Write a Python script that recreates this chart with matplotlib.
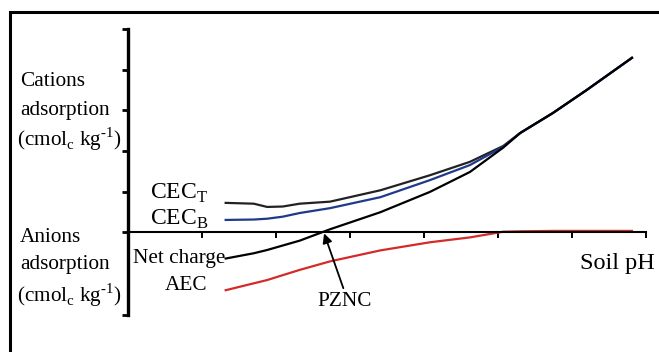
import matplotlib
matplotlib.use("Agg")
import matplotlib.pyplot as plt
from matplotlib.patches import Rectangle

plt.rcParams['font.family'] = 'Liberation Serif'
plt.rcParams['mathtext.fontset'] = 'custom'
plt.rcParams['mathtext.rm'] = 'Liberation Serif'

# values (soil pH in tick units, charge in tick units)
ph = [1.32, 1.70, 1.88, 2.09, 2.32, 2.73, 3.41, 4.08, 4.62, 5.07, 5.30, 5.74, 6.20, 6.81]
cec_t = [0.72, 0.70, 0.62, 0.63, 0.70, 0.75, 1.03, 1.40, 1.73, 2.12, 2.44, 2.93, 3.50, 4.29]
cec_b = [0.30, 0.31, 0.33, 0.38, 0.47, 0.59, 0.86, 1.28, 1.65, 2.10, 2.44, 2.93, 3.50, 4.29]
net = [-0.65, -0.52, -0.44, -0.33, -0.21, 0.07, 0.49, 0.99, 1.48, 2.08, 2.44, 2.93, 3.50, 4.29]
aec = [-1.43, -1.26, -1.18, -1.06, -0.93, -0.72, -0.45, -0.25, -0.13, 0.01, 0.02, 0.03, 0.03, 0.03]

x_ticks = [0, 1, 2, 3, 4, 5, 6, 7]
y_ticks = [-2.04, 0, 1, 2, 3, 4, 5]
pznc = (2.65, -0.03)

W, H = 659, 352
fig = plt.figure(figsize=(W / 100, H / 100), dpi=100)
ax = fig.add_axes([128 / W, 1 - 315 / H, 518 / W, 286 / H])

# outer frame (cut off at right and bottom)
fig.add_artist(Rectangle((10 / W, -0.2), 1.2, 1.2 - 12 / H, transform=fig.transFigure,
                         fill=False, lw=2.2, ec='black', clip_on=False))

ax.plot(ph, cec_t, color='#222222', lw=1.6)
ax.plot(ph, cec_b, color='#1f3a8a', lw=1.6)
ax.plot(ph, net, color='black', lw=1.6)
ax.plot(ph, aec, color='#d42a2a', lw=1.6)

ax.set_xlim(0, 7)
ax.set_ylim(-2.04, 5.0)
ax.spines['top'].set_visible(False)
ax.spines['right'].set_visible(False)
ax.spines['bottom'].set_position(('data', 0))
ax.spines['left'].set_linewidth(2.4)
ax.spines['bottom'].set_linewidth(1.5)
ax.set_xticks(x_ticks)
ax.set_yticks(y_ticks)
ax.tick_params(axis='x', direction='out', length=4.5, width=1.4, labelbottom=False)
ax.tick_params(axis='y', direction='out', length=4, width=2, labelleft=False)
ax.patch.set_alpha(0)

ax.annotate('', xy=pznc, xytext=(2.91, -1.38),
            arrowprops=dict(arrowstyle='-|>', color='black', lw=1.3,
                            mutation_scale=14, shrinkA=0, shrinkB=0))


def label(px, py, s, size=15.3, ha='left'):
    fig.text(px / W, 1 - py / H, s, fontsize=size, ha=ha, va='center')


unit = r'(cmol$_\mathregular{c}$ kg$^{\text{-1}}$)'
label(20, 82, 'Cations')
label(20, 110, 'adsorption')
label(17, 139, unit, size=15.3)
label(20, 237, 'Anions')
label(20, 265, 'adsorption')
label(17, 295, unit, size=15.3)

label(150, 193, r'CEC$_\mathregular{T}$', size=17)
label(150, 219, r'CEC$_\mathregular{B}$', size=17)
label(133, 258, 'Net charge')
label(165, 286, 'AEC')
label(317, 301, 'PZNC')
label(580, 264, 'Soil pH', size=17.5)

fig.savefig('out.png', dpi=100)
